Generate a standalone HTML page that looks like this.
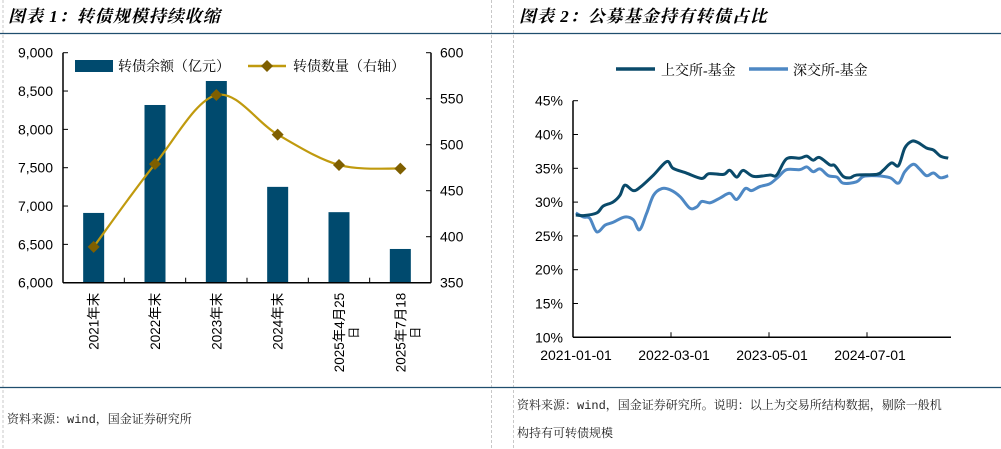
<!DOCTYPE html>
<html><head><meta charset="utf-8"><style>
html,body{margin:0;padding:0;background:#fff;}
body{width:1001px;height:449px;overflow:hidden;position:relative;}
svg{position:absolute;left:0;top:0;}
</style></head><body>
<svg width="1001" height="449" viewBox="0 0 1001 449">
<g>
<line x1="3" y1="0" x2="3" y2="449" stroke="#c8c8c8" stroke-dasharray="3,2"/>
<line x1="491.5" y1="0" x2="491.5" y2="449" stroke="#c8c8c8" stroke-dasharray="3,2"/>
<line x1="513.5" y1="0" x2="513.5" y2="449" stroke="#c8c8c8" stroke-dasharray="3,2"/>
<line x1="0" y1="33.5" x2="1001" y2="33.5" stroke="#1f4e6e" stroke-width="1.3"/>
<line x1="0" y1="387.5" x2="1001" y2="387.5" stroke="#1f4e6e" stroke-width="1.3"/>
</g>
<text x="8" y="22" font-family="'Liberation Serif','Noto Serif CJK SC',serif" font-size="17" font-weight="bold" font-style="italic" letter-spacing="1">图表 1：转债规模持续收缩</text>
<text x="519" y="22" font-family="'Liberation Serif','Noto Serif CJK SC',serif" font-size="17" font-weight="bold" font-style="italic" letter-spacing="1">图表 2：公募基金持有转债占比</text>
<text x="7" y="423" font-family="'Liberation Mono','Noto Serif CJK SC',serif" font-size="12" fill="#222">资料来源：wind，国金证券研究所</text>
<text x="517" y="409" font-family="'Liberation Mono','Noto Serif CJK SC',serif" font-size="12" fill="#222">资料来源：wind，国金证券研究所。说明：以上为交易所结构数据，剔除一般机</text>
<text x="517" y="437" font-family="'Liberation Mono','Noto Serif CJK SC',serif" font-size="12" fill="#222">构持有可转债规模</text>
<g id="c1"></g>
<g id="c2"></g>
</svg>
<script>
const NS='http://www.w3.org/2000/svg';
const categories=['2021年末','2022年末','2023年末','2024年末','2025年4月25日','2025年7月18日'];
const balanceValues=[6910,8318,8631,7250,6920,6440];
const countValues=[389,479,554,511,478,474];
const leftTicks=[6000,6500,7000,7500,8000,8500,9000];
const rightTicks=[350,400,450,500,550,600];

const shMonths=[0.4,1.5,3.4,4.3,5.7,6.7,7.4,8.6,9.6,11.5,13.4,14.3,16.2,18.4,19.4,21.5,22.4,23.4,24.3,25.8,28.1,29.1,30.5,32.4,33.4,34.3,35.2,36.7,37.4,38.6,39.6,40.5,43.4,44.3,45.5,46.5,47.4,48.4,49.3,50.5,51.5,52.5,53.6];
const shValues=[28.1,28.0,28.4,29.4,30.0,31.0,32.5,31.7,32.2,34.0,36.0,35.0,34.3,33.5,34.2,34.1,34.7,33.7,34.7,33.8,34.0,34.0,36.4,36.5,36.8,36.2,36.6,35.5,35.4,33.8,33.6,34.0,34.1,34.7,35.8,35.4,38.0,39.0,38.8,38.0,37.7,36.8,36.5];
const szMonths=[0.4,1.5,2.4,3.4,4.6,5.7,7.4,8.6,9.5,10.5,11.5,12.7,13.9,15.3,16.7,17.7,18.4,19.6,21.0,22.4,23.4,24.6,25.5,26.7,28.1,29.3,30.5,32.4,33.4,34.3,35.3,36.5,37.7,38.6,40.5,41.5,43.4,45.3,46.5,47.4,48.6,49.5,50.5,51.5,52.5,53.6];
const szValues=[28.4,27.8,27.6,25.6,26.6,27.0,27.8,27.4,25.9,28.3,31.0,32.0,31.8,30.8,29.1,29.3,30.1,29.9,30.6,31.3,30.4,32.0,31.7,32.3,32.7,33.7,34.8,34.8,35.2,34.5,34.9,33.9,33.7,32.8,33.0,33.8,33.9,33.6,32.8,34.5,35.6,34.9,33.9,34.3,33.6,33.9];
const pctTicks=[10,15,20,25,30,35,40,45];
const dateLabels=['2021-01-01','2022-03-01','2023-05-01','2024-07-01'];
const dateLabelMonths=[0,14,28,42];

function el(tag,attrs,parent){const e=document.createElementNS(NS,tag);for(const k in attrs)e.setAttribute(k,attrs[k]);parent.appendChild(e);return e;}
function smooth(pts){let d='M'+pts[0][0]+','+pts[0][1];for(let i=0;i<pts.length-1;i++){const p0=pts[Math.max(i-1,0)],p1=pts[i],p2=pts[i+1],p3=pts[Math.min(i+2,pts.length-1)];const t=1/6;d+=' C'+(p1[0]+(p2[0]-p0[0])*t)+','+(p1[1]+(p2[1]-p0[1])*t)+' '+(p2[0]-(p3[0]-p1[0])*t)+','+(p2[1]-(p3[1]-p1[1])*t)+' '+p2[0]+','+p2[1];}return d;}
const F="'Liberation Sans',sans-serif";
const FS="'Liberation Serif','Noto Serif CJK SC',serif";

// Chart 1
(function(){
const g=document.getElementById('c1');
const x0=63,x1=431,yb=282.7,yt=52.7;
const yL=v=>yb-(v-6000)/3000*(yb-yt);
const yR=v=>yb-(v-350)/250*(yb-yt);
const bw=(x1-x0)/categories.length;
const xc=i=>x0+bw*(i+0.5);
categories.forEach((c,i)=>{
 const r=el('rect',{x:xc(i)-10.5,y:yL(balanceValues[i]),width:21,height:yb-yL(balanceValues[i]),fill:'#004a6e'},g);
 
 
});
const pts=countValues.map((v,i)=>[xc(i),yR(v)]);
const p=el('path',{d:smooth(pts),fill:'none',stroke:'#c09a0e','stroke-width':2.2},g);


pts.forEach((q,i)=>{
 const m=el('path',{d:`M${q[0]-6},${q[1]} L${q[0]},${q[1]-6} L${q[0]+6},${q[1]} L${q[0]},${q[1]+6}Z`,fill:'#7f5f00'},g);
 
 
});
el('line',{x1:x0,y1:yt,x2:x0,y2:yb,stroke:'#000','stroke-width':1.5},g);
el('line',{x1:x1,y1:yt,x2:x1,y2:yb,stroke:'#000','stroke-width':1.5},g);
el('line',{x1:x0,y1:yb,x2:x1,y2:yb,stroke:'#000','stroke-width':1.5},g);
leftTicks.forEach(v=>{
 el('line',{x1:x0,y1:yL(v),x2:x0+5,y2:yL(v),stroke:'#000'},g);
 const t=el('text',{x:x0-10,y:yL(v)+5,'text-anchor':'end','font-family':F,'font-size':14},g);
 t.textContent=v.toLocaleString('en-US');
 
 
});
rightTicks.forEach(v=>{
 el('line',{x1:x1-5,y1:yR(v),x2:x1,y2:yR(v),stroke:'#000'},g);
 const t=el('text',{x:x1+9,y:yR(v)+5,'font-family':F,'font-size':14},g);
 t.textContent=v;
 
 
});
for(let i=1;i<categories.length;i++)el('line',{x1:x0+bw*i,y1:yb,x2:x0+bw*i,y2:yb-5,stroke:'#000'},g);
categories.forEach((c,i)=>{
 const parts=c.length>6?[c.slice(0,c.length-1),c.slice(-1)]:[c];
 const t=el('text',{transform:`translate(${xc(i)+5},${yb+10}) rotate(-90)`,'text-anchor':'end','font-family':"'Liberation Sans','Noto Sans CJK SC',sans-serif",'font-size':13.5},g);
 t.textContent=parts[0];
 
 
 if(parts[1]){
  const t2=el('text',{transform:`translate(${xc(i)+19},${yb+50}) rotate(-90)`,'text-anchor':'middle','font-family':"'Liberation Sans','Noto Sans CJK SC',sans-serif",'font-size':12},g);
  t2.textContent=parts[1];
  
  
 }
});
// legend
el('rect',{x:75,y:60,width:38,height:12,fill:'#004a6e'},g);
const l1=el('text',{x:118,y:71,'font-family':FS,'font-size':14},g);l1.textContent='转债余额（亿元）';


el('line',{x1:248,y1:66,x2:286,y2:66,stroke:'#c09a0e','stroke-width':2.5},g);
el('path',{d:'M261,66 L267,60 L273,66 L267,72Z',fill:'#7f5f00'},g);
const l2=el('text',{x:293,y:71,'font-family':FS,'font-size':14},g);l2.textContent='转债数量（右轴）';


})();

// Chart 2
(function(){
const g=document.getElementById('c2');
const x0=573,yb=337.3,yt=100.7,pxm=7;
const X=m=>x0+m*pxm;
const Y=v=>yb-(v-10)/35*(yb-yt);
[[szMonths,szValues,'#4e88c4','sz-fund-line'],[shMonths,shValues,'#0a4a6a','sh-fund-line']].forEach(s=>{
 const pts=s[0].map((m,i)=>[X(m),Y(s[1][i])]);
 const p=el('path',{d:smooth(pts),fill:'none',stroke:s[2],'stroke-width':3,'stroke-linejoin':'round'},g);
 
 
});
el('line',{x1:x0,y1:yt,x2:x0,y2:yb,stroke:'#000','stroke-width':1.5},g);
el('line',{x1:x0,y1:yb,x2:951,y2:yb,stroke:'#000','stroke-width':1.5},g);
pctTicks.forEach(v=>{
 el('line',{x1:x0,y1:Y(v),x2:x0+5,y2:Y(v),stroke:'#000'},g);
 const t=el('text',{x:x0-10,y:Y(v)+5,'text-anchor':'end','font-family':F,'font-size':14},g);
 t.textContent=v+'%';
 
 
});
dateLabels.forEach((d,i)=>{
 const x=X(dateLabelMonths[i]);
 if(i>0)el('line',{x1:x,y1:yb,x2:x,y2:yb-5,stroke:'#000'},g);
 const t=el('text',{x:x+3,y:360,'text-anchor':'middle','font-family':F,'font-size':14},g);
 t.textContent=d;
 
 
});
el('line',{x1:616,y1:69,x2:655,y2:69,stroke:'#0a4a6a','stroke-width':3.5},g);
const a=el('text',{x:661,y:75,'font-family':FS,'font-size':14},g);a.textContent='上交所-基金';


el('line',{x1:749,y1:69,x2:788,y2:69,stroke:'#4e88c4','stroke-width':3.5},g);
const b=el('text',{x:793,y:75,'font-family':FS,'font-size':14},g);b.textContent='深交所-基金';


})();
</script>
</body></html>
